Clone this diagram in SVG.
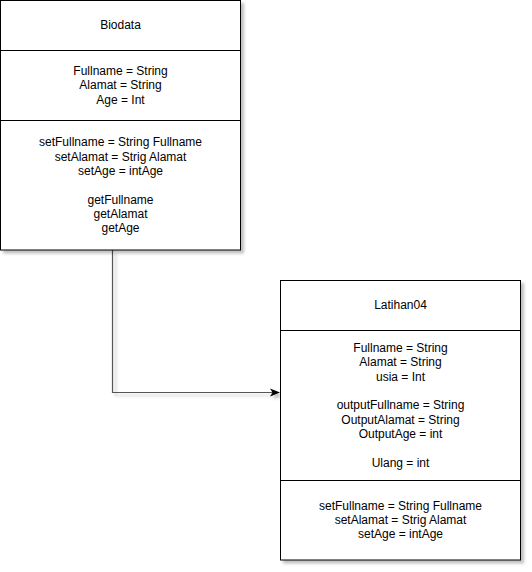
<svg xmlns="http://www.w3.org/2000/svg" width="532" height="572" viewBox="0 0 532 572">
<defs>
<filter id="sh" x="-10%" y="-10%" width="130%" height="130%">
<feOffset in="SourceAlpha" dx="3" dy="3" result="o"/>
<feGaussianBlur in="o" stdDeviation="1.5" result="b"/>
<feFlood flood-color="#000" flood-opacity="0.25"/>
<feComposite in2="b" operator="in" result="s"/>
<feMerge><feMergeNode in="s"/><feMergeNode in="SourceGraphic"/></feMerge>
</filter>
<marker id="arr" viewBox="0 0 10 10" refX="9" refY="5" markerWidth="10" markerHeight="10" markerUnits="userSpaceOnUse" orient="auto">
<path d="M0,1 L10,5 L0,9 L2.5,5 Z" fill="#000"/>
</marker>
</defs>
<style>
rect{fill:#fff;stroke:#000;stroke-width:1}
.d{stroke:#000;stroke-width:1}
text{font-family:"Liberation Sans",Arial,sans-serif;font-size:12px;fill:#000;text-anchor:middle}
</style>
<rect x="0" y="0" width="532" height="572" style="stroke:none"/>
<g id="connectors">
<path d="M112.5,250 V392.5 H279" fill="none" stroke="#555" stroke-width="1.2" marker-end="url(#arr)" filter="url(#sh)"/>
</g>
<g id="biodata" filter="url(#sh)">
<rect x="0.5" y="0.5" width="240" height="249.5"/>
<line class="d" x1="0.5" y1="50.5" x2="240.5" y2="50.5"/>
<line class="d" x1="0.5" y1="120.5" x2="240.5" y2="120.5"/>
</g>
<g id="biodata-text">
<text x="120.5" y="29">Biodata</text>
<text x="120.5" y="75">Fullname = String</text>
<text x="120.5" y="89">Alamat = String</text>
<text x="120.5" y="103.5">Age = Int</text>
<text x="120.5" y="146">setFullname = String Fullname</text>
<text x="120.5" y="160.5">setAlamat = Strig Alamat</text>
<text x="120.5" y="174.5">setAge = intAge</text>
<text x="120.5" y="203.5">getFullname</text>
<text x="120.5" y="217.5">getAlamat</text>
<text x="120.5" y="232">getAge</text>
</g>
<g id="latihan04" filter="url(#sh)">
<rect x="280.5" y="280.5" width="240" height="279.5"/>
<line class="d" x1="280.5" y1="330.5" x2="520.5" y2="330.5"/>
<line class="d" x1="280.5" y1="480.5" x2="520.5" y2="480.5"/>
</g>
<g id="latihan04-text">
<text x="400.5" y="309">Latihan04</text>
<text x="400.5" y="352">Fullname = String</text>
<text x="400.5" y="366">Alamat = String</text>
<text x="400.5" y="380.5">usia = Int</text>
<text x="400.5" y="409">outputFullname = String</text>
<text x="400.5" y="423.5">OutputAlamat = String</text>
<text x="400.5" y="437.5">OutputAge = int</text>
<text x="400.5" y="466.5">Ulang = int</text>
<text x="400.5" y="509.5">setFullname = String Fullname</text>
<text x="400.5" y="523.5">setAlamat = Strig Alamat</text>
<text x="400.5" y="538">setAge = intAge</text>
</g>
</svg>
